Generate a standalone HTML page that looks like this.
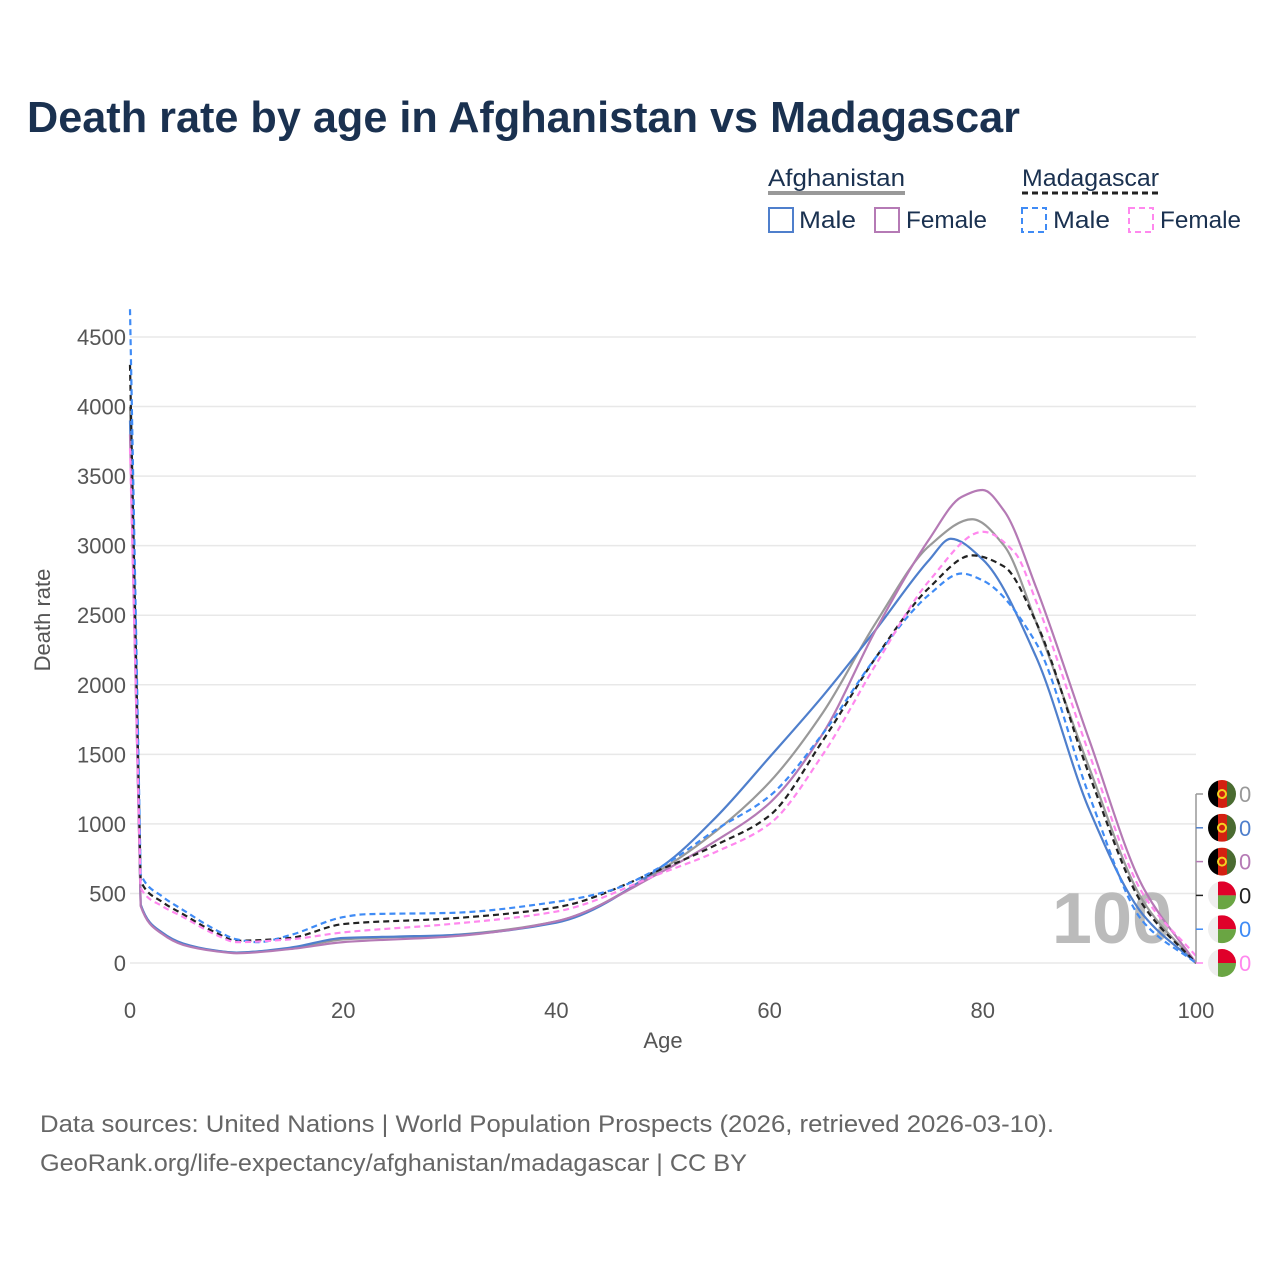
<!DOCTYPE html>
<html><head><meta charset="utf-8">
<style>
body{margin:0;background:#fff;font-family:"Liberation Sans",sans-serif;}
svg text{font-family:"Liberation Sans",sans-serif;}
</style></head>
<body>
<svg id="chart" width="1280" height="1280" viewBox="0 0 1280 1280" xmlns="http://www.w3.org/2000/svg">
<rect width="1280" height="1280" fill="#fff"/>
<text x="27" y="132" font-size="44" font-weight="bold" fill="#1a3150" textLength="993" lengthAdjust="spacingAndGlyphs">Death rate by age in Afghanistan vs Madagascar</text>
<g>
<text x="768" y="186" font-size="24" fill="#1a3150" textLength="137" lengthAdjust="spacingAndGlyphs">Afghanistan</text>
<line x1="768" y1="193" x2="905" y2="193" stroke="#999" stroke-width="4"/>
<text x="1022" y="186" font-size="24" fill="#1a3150" textLength="137" lengthAdjust="spacingAndGlyphs">Madagascar</text>
<line x1="1022" y1="193" x2="1159" y2="193" stroke="#222" stroke-width="3" stroke-dasharray="6,4"/>
<rect x="769" y="208" width="24" height="24" fill="none" stroke="#4f7fcc" stroke-width="2"/>
<text x="799" y="228" font-size="24" fill="#1a3150" textLength="57" lengthAdjust="spacingAndGlyphs">Male</text>
<rect x="875" y="208" width="24" height="24" fill="none" stroke="#b57ab5" stroke-width="2"/>
<text x="906" y="228" font-size="24" fill="#1a3150" textLength="81" lengthAdjust="spacingAndGlyphs">Female</text>
<rect x="1022" y="208" width="24" height="24" fill="none" stroke="#3f8bf5" stroke-width="2" stroke-dasharray="6,4"/>
<text x="1053" y="228" font-size="24" fill="#1a3150" textLength="57" lengthAdjust="spacingAndGlyphs">Male</text>
<rect x="1129" y="208" width="24" height="24" fill="none" stroke="#ff88ee" stroke-width="2" stroke-dasharray="6,4"/>
<text x="1160" y="228" font-size="24" fill="#1a3150" textLength="81" lengthAdjust="spacingAndGlyphs">Female</text>
</g>
<g id="grid"></g>
<g id="axes"></g>
<text x="1112" y="943" font-size="72" font-weight="bold" fill="#bbb" text-anchor="middle">100</text>
<g id="lines"></g>
<g id="ends"></g>
<text transform="translate(50,620) rotate(-90)" font-size="22" fill="#555" text-anchor="middle">Death rate</text>
<text x="663" y="1048" font-size="22" fill="#555" text-anchor="middle">Age</text>
<text x="40" y="1132" font-size="24" fill="#666" textLength="1014" lengthAdjust="spacingAndGlyphs">Data sources: United Nations | World Population Prospects (2026, retrieved 2026-03-10).</text>
<text x="40" y="1171" font-size="24" fill="#666" textLength="707" lengthAdjust="spacingAndGlyphs">GeoRank.org/life-expectancy/afghanistan/madagascar | CC BY</text>
</svg>
<script>
const yTicks=[0,500,1000,1500,2000,2500,3000,3500,4000,4500];
const xTicks=[0,20,40,60,80,100];
const afgMaleAges=[0,1,3,5,8,10,15,20,25,30,40,50,55,60,65,70,75,77,80,85,90,95,100];
const afgMale=[3900,420,220,140,90,75,110,180,190,200,290,700,1050,1480,1920,2400,2900,3050,2900,2200,1100,350,0];
const afgAllAges=[0,1,3,5,8,10,15,20,30,40,50,55,60,65,70,75,79,82,85,90,95,100];
const afgAll=[4000,420,215,135,88,75,105,170,200,300,680,950,1300,1800,2450,3000,3190,3000,2450,1400,450,0];
const afgFemaleAges=[0,1,3,5,8,10,15,20,30,40,50,55,60,65,70,75,78,80,82,85,90,95,100];
const afgFemale=[3800,410,210,130,85,70,100,150,190,300,660,880,1150,1650,2400,3050,3350,3400,3250,2700,1600,550,0];
const mdgMaleAges=[0,1,3,5,8,10,12,15,20,22,30,40,45,50,55,60,65,70,75,78,80,85,90,95,100];
const mdgMale=[4700,640,480,380,240,170,150,200,330,350,360,440,520,700,960,1200,1650,2200,2650,2800,2750,2300,1200,300,0];
const mdgAllAges=[0,1,3,5,8,10,15,20,30,40,50,55,60,65,70,75,79,82,85,90,95,100];
const mdgAll=[4300,590,440,350,220,160,180,280,320,400,680,850,1060,1600,2200,2700,2930,2850,2450,1350,420,0];
const mdgFemaleAges=[0,1,3,5,8,10,15,20,30,40,50,55,60,65,70,75,80,83,85,90,95,100];
const mdgFemale=[3700,540,410,330,205,150,170,220,280,370,650,800,1000,1500,2150,2750,3100,2950,2600,1500,500,50];
const endLabels=["0","0","0","0","0","0"];

const X=a=>130+a*10.66, Y=v=>963-v*0.13911;
const NS="http://www.w3.org/2000/svg";
function mk(t,attrs,parent){const e=document.createElementNS(NS,t);for(const k in attrs)e.setAttribute(k,attrs[k]);parent.appendChild(e);return e;}
const grid=document.getElementById('grid'),axes=document.getElementById('axes');
yTicks.forEach(v=>{
 const l=mk('line',{x1:130,x2:1196,y1:Y(v),y2:Y(v),stroke:'#e8e8e8','stroke-width':1.5},grid);
 
 
 const t=mk('text',{x:126,y:Y(v)+8,'font-size':22,fill:'#555','text-anchor':'end'},axes);
 t.textContent=v;
 
 
});
xTicks.forEach(v=>{
 const t=mk('text',{x:X(v),y:1018,'font-size':22,fill:'#555','text-anchor':'middle'},axes);
 t.textContent=v;
 
 
});
function path(ages,vals){
 const n=ages.length, xs=ages.map(X), ys=vals.map(Y);
 const d=[],m=new Array(n);
 for(let i=0;i<n-1;i++)d.push((ys[i+1]-ys[i])/(xs[i+1]-xs[i]));
 m[0]=d[0];m[n-1]=d[n-2];
 for(let i=1;i<n-1;i++){
  if(d[i-1]*d[i]<=0)m[i]=0;
  else{const w1=2*(xs[i+1]-xs[i])+(xs[i]-xs[i-1]),w2=(xs[i+1]-xs[i])+2*(xs[i]-xs[i-1]);m[i]=(w1+w2)/(w1/d[i-1]+w2/d[i]);}
 }
 let s='M'+xs[0]+','+ys[0];
 for(let i=0;i<n-1;i++){
  const h=(xs[i+1]-xs[i])/3;
  if(i===0){s+=' L'+xs[1]+','+ys[1];continue;}
  s+=` C${xs[i]+h},${ys[i]+m[i]*h} ${xs[i+1]-h},${ys[i+1]-m[i+1]*h} ${xs[i+1]},${ys[i+1]}`;
 }
 return s;
}
const lines=document.getElementById('lines');
const series=[
 [afgAllAges,afgAll,'#999',null,'line-afghanistan-all'],
 [afgMaleAges,afgMale,'#4f7fcc',null,'line-afghanistan-male'],
 [afgFemaleAges,afgFemale,'#b57ab5',null,'line-afghanistan-female'],
 [mdgAllAges,mdgAll,'#222','6,4','line-madagascar-all'],
 [mdgMaleAges,mdgMale,'#3f8bf5','6,4','line-madagascar-male'],
 [mdgFemaleAges,mdgFemale,'#ff88ee','6,4','line-madagascar-female']
];
series.forEach(s=>{
 const a={d:path(s[0],s[1]),fill:'none',stroke:s[2],'stroke-width':2.2};
 if(s[3])a['stroke-dasharray']=s[3];
 const e=mk('path',a,lines);
 
 
});
const ends=document.getElementById('ends');
const cols=['#999','#4f7fcc','#b57ab5','#222','#3f8bf5','#ff88ee'];
mk('line',{x1:1196,x2:1196,y1:794,y2:963,stroke:'#999','stroke-width':1.5},ends);
cols.forEach((c,i)=>{
 const y=794+i*33.8;
 mk('line',{x1:1196,x2:1203,y1:y,y2:y,stroke:c,'stroke-width':1.5},ends);
 const cx=1222;
 const g=mk('g',{},ends);
 
 
 const cp='cp'+i;
 const clip=mk('clipPath',{id:cp},g);mk('circle',{cx:cx,cy:y,r:14},clip);
 const gg=mk('g',{'clip-path':`url(#${cp})`},g);
 if(i<3){
  mk('rect',{x:cx-14,y:y-14,width:10,height:28,fill:'#000'},gg);
  mk('rect',{x:cx-4,y:y-14,width:9,height:28,fill:'#d32011'},gg);
  mk('rect',{x:cx+5,y:y-14,width:9,height:28,fill:'#4a6b30'},gg);
  mk('circle',{cx:cx,cy:y,r:4,fill:'none',stroke:'#f3d321','stroke-width':2},gg);
 }else{
  mk('rect',{x:cx-14,y:y-14,width:28,height:28,fill:'#eee'},gg);
  mk('rect',{x:cx-4,y:y-14,width:18,height:14,fill:'#e0002a'},gg);
  mk('rect',{x:cx-4,y:y,width:18,height:14,fill:'#6aa543'},gg);
 }
 const t=mk('text',{x:1239,y:y+8,'font-size':22,fill:c},ends);
 t.textContent=endLabels[i];
 
 
});
</script>
</body></html>
